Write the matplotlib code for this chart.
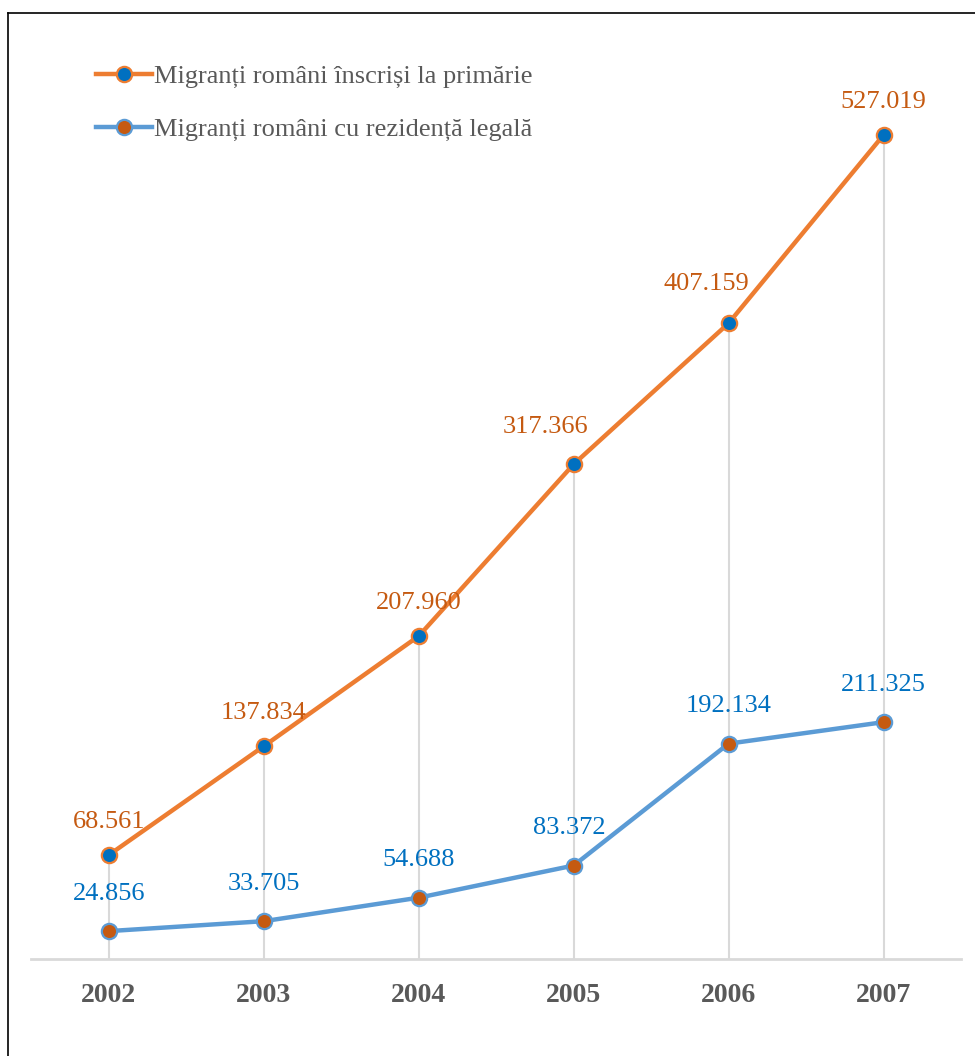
import matplotlib
matplotlib.use("Agg")
import matplotlib.pyplot as plt
from matplotlib.lines import Line2D

plt.rcParams["font.family"] = ["Liberation Serif", "DejaVu Serif"]

years = ["2002", "2003", "2004", "2005", "2006", "2007"]
registered = [68.561, 137.834, 207.960, 317.366, 407.159, 527.019]
legal_residence = [24.856, 33.705, 54.688, 83.372, 192.134, 211.325]
series_names = [
    "Migranți români înscriși la primărie",
    "Migranți români cu rezidență legală",
]

ORANGE = "#ED7D31"
BLUE = "#5B9BD5"
DARK_ORANGE = "#C55A11"
DARK_BLUE = "#0070C0"
GREY_TEXT = "#595959"
GRID = "#D9D9D9"

fig = plt.figure(figsize=(9.75, 10.56), dpi=100)
ax = fig.add_axes([0.0323, 0.0919, 0.9533, 0.8797])
ax_res = ax.twinx()
ax_res.set_zorder(ax.get_zorder() + 1)
ax_res.patch.set_visible(False)

x = list(range(len(years)))
ax.set_xlim(-0.5, len(years) - 0.5)
ax.set_ylim(2.3, 593.9)
ax_res.set_ylim(0, 829)

# drop lines from the upper series down to the category axis
ax.vlines(x, ax.get_ylim()[0], registered, color=GRID, lw=1.5, zorder=0)

ax.plot(x, registered, color=ORANGE, lw=3.2, marker="o", ms=11,
        mfc=DARK_BLUE, mec=ORANGE, mew=1.6, zorder=3, solid_capstyle="round")
ax_res.plot(x, legal_residence, color=BLUE, lw=3.2, marker="o", ms=11,
            mfc=DARK_ORANGE, mec=BLUE, mew=1.6, zorder=3, solid_capstyle="round")

label_dx_reg = [0, 0, 0, -20, -16, 0]
label_dy_reg = [24, 24, 24, 27, 28, 24]
for xi, v, dx, dy in zip(x, registered, label_dx_reg, label_dy_reg):
    ax.annotate(f"{v:.3f}", (xi, v), xytext=(dx, dy), textcoords="offset points",
                ha="center", va="center", fontsize=19, color=DARK_ORANGE)
label_dx_res = [0, 0, 0, -3, 0, 0]
for xi, v, dx in zip(x, legal_residence, label_dx_res):
    ax_res.annotate(f"{v:.3f}", (xi, v), xytext=(dx, 27), textcoords="offset points",
                    ha="center", va="center", fontsize=19, color=DARK_BLUE)

for a in (ax, ax_res):
    for side in ("top", "left", "right"):
        a.spines[side].set_visible(False)
    a.set_yticks([])
ax_res.spines["bottom"].set_visible(False)
ax.spines["bottom"].set_color(GRID)
ax.spines["bottom"].set_linewidth(2)

ax.set_xticks(x)
ax.set_xticklabels(years, fontsize=20, fontweight="bold", color=GREY_TEXT)
ax.tick_params(axis="x", length=0, pad=17)
ax_res.tick_params(axis="x", length=0)

handles = [
    Line2D([], [], color=ORANGE, lw=3.2, marker="o", ms=11, mfc=DARK_BLUE,
           mec=ORANGE, mew=1.6),
    Line2D([], [], color=BLUE, lw=3.2, marker="o", ms=11, mfc=DARK_ORANGE,
           mec=BLUE, mew=1.6),
]
leg = ax_res.legend(handles, series_names, loc="upper left",
                    bbox_to_anchor=(0.044, 0.988), frameon=False, fontsize=19,
                    handlelength=2.1, handletextpad=0.1, labelspacing=1.1)
for t in leg.get_texts():
    t.set_color(GREY_TEXT)

# page frame along the top and left edges
fig.add_artist(Line2D([8 / 975, 1.0], [1 - 13 / 1056, 1 - 13 / 1056],
                      transform=fig.transFigure, color="black", lw=1.2))
fig.add_artist(Line2D([8 / 975, 8 / 975], [0.0, 1 - 13 / 1056],
                      transform=fig.transFigure, color="black", lw=1.2))

fig.savefig("out.png", dpi=100, facecolor="white")
